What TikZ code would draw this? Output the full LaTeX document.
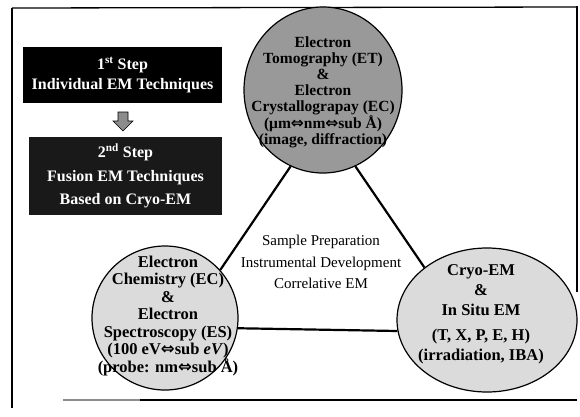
\documentclass[tikz,border=0pt]{standalone}
\usepackage{fontspec}
\setmainfont{Liberation Serif}
\newfontfamily\symf{DejaVu Sans}
\usetikzlibrary{shapes.geometric}
\newcommand{\dbar}{{\symf\char"21D4}}
\begin{document}
\begin{tikzpicture}[x=1pt,y=-1pt,
  frameline/.style={line width=1.3pt},
  blackbox/.style={rectangle,fill=black,text=white,align=center,inner sep=0pt,
    font=\fontsize{16}{20}\selectfont\bfseries},
  circ/.style={ellipse,draw,line width=1.2pt,inner sep=0pt},
  ctext/.style={align=center,inner sep=0pt},
  conn/.style={line width=2.2pt},
  midtext/.style={align=center,inner sep=0pt,font=\fontsize{15}{21.5}\selectfont}]
\useasboundingbox (0,0) rectangle (580,416);
% frame
\draw[frameline] (12,8) -- (577,7);
\draw[frameline] (12,8) -- (12,408);
\draw[frameline] (577,6) -- (577,292);
\draw[frameline,black!45] (63,400) -- (140,400);
\draw[frameline] (140,400) -- (577,400);
% step boxes
\node[blackbox,minimum width=199pt,minimum height=56pt] (s1) at (122.5,75)
  {1\textsuperscript{st} Step\\Individual EM Techniques};
\node[blackbox,fill=black!90,minimum width=193pt,minimum height=78pt,
  font=\fontsize{16}{23.5}\selectfont\bfseries] (s2) at (125.5,176)
  {2\textsuperscript{nd} Step\\Fusion EM Techniques\\Based on Cryo-EM};
% small block arrow
\draw[fill=black!45,line width=0.6pt] (118,112) -- (128,112) -- (128,121) -- (133,121)
  -- (123,131) -- (113,121) -- (118,121) -- cycle;
% circles
\node[circ,fill=black!40,minimum width=158pt,minimum height=166pt] (T) at (323,90) {};
\node[circ,fill=black!14,minimum width=146pt,minimum height=144pt] (L) at (165,318) {};
\node[circ,fill=black!14,minimum width=180pt,minimum height=144pt] (R) at (487,320) {};
% connectors
\draw[conn] (T.-113) -- (L.41);
\draw[conn] (T.-67) -- (R.140);
\draw[conn] (L.-8) -- (R.187);
% circle texts
\node[ctext,font=\fontsize{15.5}{16}\selectfont\bfseries] (tt) at (323,92)
  {Electron\\Tomography (ET)\\\&\\Electron\\Crystallograpay (EC)\\(μm\dbar nm\dbar sub Å)\\(image, diffraction)};
\node[ctext,font=\fontsize{16.5}{17.5}\selectfont\bfseries] (lt) at (168,316)
  {Electron\\Chemistry (EC)\\\&\\Electron\\Spectroscopy (ES)\\(100 eV\dbar sub \textit{eV})\\(probe: nm\dbar sub Å)};
\node[ctext,font=\fontsize{16.5}{20}\selectfont\bfseries] (rt) at (481,314)
  {Cryo-EM\\\&\\In Situ EM\\[5pt](T, X, P, E, H)\\(irradiation, IBA)};
% centre text
\node[midtext] (mt) at (321,262)
  {Sample Preparation\\Instrumental Development\\Correlative EM};
\end{tikzpicture}
\end{document}
